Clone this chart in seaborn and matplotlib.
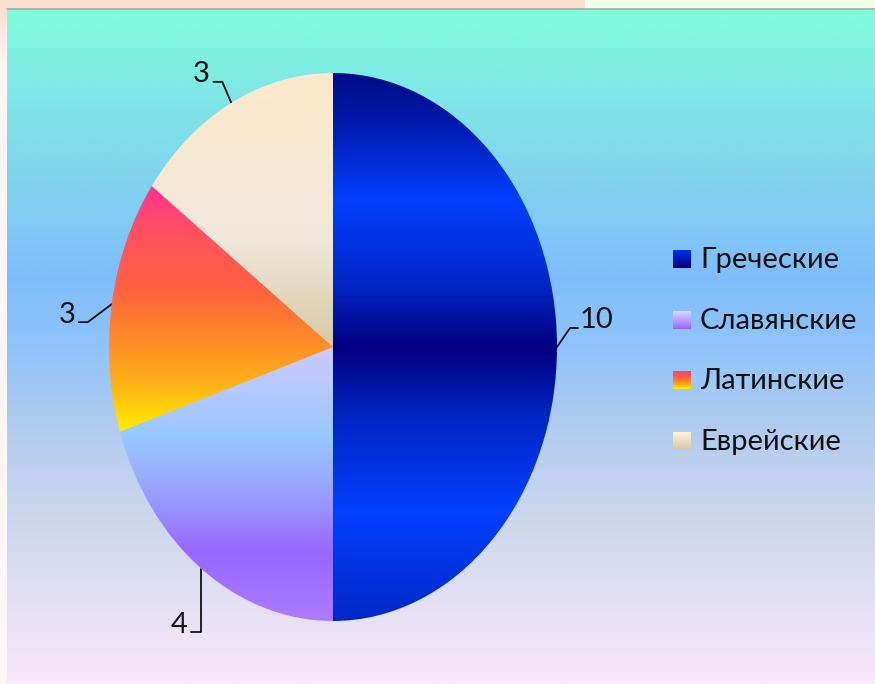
import numpy as np
import matplotlib
matplotlib.use('Agg')
import matplotlib.pyplot as plt
import seaborn as sns
from matplotlib.colors import LinearSegmentedColormap
from matplotlib.patches import Rectangle
from matplotlib.lines import Line2D

# ---- data ----
categories = ['Греческие', 'Славянские', 'Латинские', 'Еврейские']
values = [10, 4, 3, 3]
value_labels = ['10', '4', '3', '3']

# ---- style ----
sns.set_theme(style='white')
plt.rcParams['font.family'] = ['Lato', 'DejaVu Sans']

W, H = 875, 684
FS = 21

wedge_grads = {
    'Греческие': [(0.0, '#000c88'), (0.08, '#0018a8'), (0.23, '#0040ff'), (0.38, '#0028c8'),
                  (0.50, '#000080'), (0.62, '#0024c0'), (0.80, '#0040ff'), (1.0, '#0028c8')],
    'Славянские': [(0.0, '#cccaff'), (0.33, '#98c8ff'), (0.55, '#9a9cff'), (0.75, '#9966ff'), (1.0, '#ac7cff')],
    'Латинские': [(0.0, '#ff3390'), (0.18, '#ff5060'), (0.42, '#ff6240'), (0.62, '#ff8a28'), (0.80, '#ffb018'), (1.0, '#ffee00')],
    'Еврейские': [(0.0, '#fde8cc'), (0.6, '#f0e8d8'), (1.0, '#d8c8a8')],
}
legend_grads = {
    'Греческие': [(0.0, '#0030e8'), (1.0, '#000080')],
    'Славянские': [(0.0, '#d8d8ff'), (1.0, '#9966ff')],
    'Латинские': [(0.0, '#ff3a70'), (0.6, '#ff8a20'), (1.0, '#ffee00')],
    'Еврейские': [(0.0, '#fff0dc'), (1.0, '#d8c8a8')],
}
bg_grad = [(0.0, '#80fcdc'), (0.14, '#80e4e8'), (0.28, '#80d0f0'), (0.40, '#80bcfc'),
           (0.50, '#90c4fa'), (0.62, '#b0ccf0'), (0.75, '#ccd6ec'), (0.88, '#e4e0f4'), (1.0, '#f8e8f8')]

def cmap_of(stops, name='g'):
    return LinearSegmentedColormap.from_list(name, stops)

grad = np.linspace(0, 1, 512).reshape(-1, 1)

fig = plt.figure(figsize=(W / 100, H / 100), dpi=100)

# ---- background (pixel coordinates) ----
bg = fig.add_axes([0, 0, 1, 1])
bg.set_axis_off()
bg.add_patch(Rectangle((0, 0), W, H, facecolor='#fdf6f6', edgecolor='none', zorder=-2))
bg.add_patch(Rectangle((0, 0), 585, 9, facecolor='#fde0d4', edgecolor='none', zorder=-2))
bg.add_patch(Rectangle((585, 0), W - 585, 9, facecolor='#f0fde8', edgecolor='none', zorder=-2))
bg.imshow(np.linspace(0, 1, 64).reshape(-1, 1), cmap=cmap_of([(0, '#fde0d4'), (1, '#fef8f8')]),
          extent=(0, 7, 70, 9), aspect='auto', interpolation='bilinear', zorder=-1)
bg.imshow(grad, cmap=cmap_of(bg_grad), extent=(7, W, H, 9), aspect='auto',
          interpolation='bilinear', zorder=-1)
bg.add_line(Line2D([7, W], [8.5, 8.5], color='#a8a8a0', lw=1.2))
bg.set_xlim(0, W)
bg.set_ylim(H, 0)

# ---- elliptical pie ----
cx, cy, rx, ry = 333, 347, 224, 274
ax = fig.add_axes([(cx - rx) / W, 1 - (cy + ry) / H, 2 * rx / W, 2 * ry / H])
wedges, _ = ax.pie(values, startangle=90, counterclock=False, radius=1,
                   wedgeprops=dict(linewidth=0))
for w, cat in zip(wedges, categories):
    w.set_facecolor('none')
    ext = w.get_path().get_extents()
    if cat == 'Греческие':
        y0, y1 = -1, 1
    else:
        y0, y1 = ext.y0, ext.y1
    im = ax.imshow(grad, cmap=cmap_of(wedge_grads[cat]), extent=(-1, 1, y0, y1),
                   aspect='auto', interpolation='bilinear', zorder=1)
    im.set_clip_path(w)
ax.set_xlim(-1, 1)
ax.set_ylim(-1, 1)
ax.set_aspect('auto')
ax.set_axis_off()

# ---- value labels with leader lines ----
leaders = {
    'Греческие': ([(0, 0), (13, -19), (21, -19)], (40, -19)),
    'Славянские': ([(0, 0), (0, 63), (-10, 63)], (-22, 64)),
    'Латинские': ([(0, 0), (-24, 18), (-33, 18)], (-45, 19)),
    'Еврейские': ([(0, 0), (-9, -21), (-18, -21)], (-30, -21)),
}
inv = bg.transData.inverted()
for w, cat, lab in zip(wedges, categories, value_labels):
    mid = np.deg2rad((w.theta1 + w.theta2) / 2)
    disp = ax.transData.transform((np.cos(mid), np.sin(mid)))
    px, py = inv.transform(disp)
    pts, tpos = leaders[cat]
    bg.add_line(Line2D([px + dx for dx, dy in pts], [py + dy for dx, dy in pts],
                       color='#111111', lw=1.3))
    bg.text(px + tpos[0], py + tpos[1], lab, ha='center', va='baseline',
            fontsize=FS, color='#111111')

# ---- legend ----
base = [268, 329, 389, 450]
for cat, b in zip(categories, base):
    bg.imshow(np.linspace(0, 1, 32).reshape(-1, 1), cmap=cmap_of(legend_grads[cat]),
              extent=(673, 691, b, b - 18), aspect='auto', interpolation='bilinear', zorder=1)
    bg.text(700, b, cat, ha='left', va='baseline', fontsize=FS, color='#111111')
bg.set_xlim(0, W)
bg.set_ylim(H, 0)

fig.savefig('out.png', dpi=100)
